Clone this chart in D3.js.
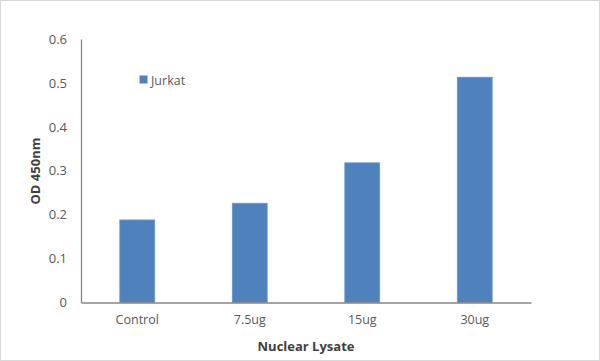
<!DOCTYPE html>
<html><head><meta charset="utf-8">
<script src="https://cdn.jsdelivr.net/npm/d3@7"></script>
<style>body{margin:0;background:#fff}svg{display:block}</style>
</head><body>
<script>
const categories = ["Control", "7.5ug", "15ug", "30ug"];
const jurkat = [0.188, 0.226, 0.318, 0.513];
const yTicks = [0, 0.1, 0.2, 0.3, 0.4, 0.5, 0.6];
const seriesName = "Jurkat";

const W = 600, H = 361;
const svg = d3.select("body").append("svg").attr("width", W).attr("height", H);
svg.append("rect").attr("x", 0.5).attr("y", 0.5).attr("width", W - 1).attr("height", H - 1)
  .attr("fill", "#fff").attr("stroke", "#d9d9d9");

const pLeft = 81, pRight = 531, pTop = 39, pBottom = 302.5;
const x = d3.scaleBand().domain(categories).range([pLeft, pRight]).paddingInner(0.69).paddingOuter(0.345);
const y = d3.scaleLinear().domain([0, 0.6]).range([pBottom, pTop]);
const font = "'Open Sans', 'Liberation Sans', sans-serif";

svg.selectAll("rect.bar").data(jurkat).join("rect").attr("class", "bar")
  .attr("x", (d, i) => x(categories[i])).attr("width", x.bandwidth())
  .attr("y", d => y(d)).attr("height", d => y(0) - y(d))
  .attr("fill", "#4f81bd").attr("stroke", "#6b96cc").attr("stroke-width", 0.8);

const yAxis = svg.append("g").attr("transform", `translate(${pLeft},0)`)
  .call(d3.axisLeft(y).tickValues(yTicks).tickSize(0).tickPadding(14).tickFormat(d => d === 0 ? "0" : d3.format(".1f")(d)));
yAxis.select(".domain").attr("stroke", "#868686").attr("stroke-width", 1.3);
yAxis.selectAll("text").attr("font-family", font).attr("font-size", 13).attr("fill", "#595959");

const xAxis = svg.append("g").attr("transform", `translate(0,${pBottom})`)
  .call(d3.axisBottom(x).tickSize(0).tickPadding(13));
xAxis.select(".domain").attr("stroke", "#868686").attr("stroke-width", 1.3);
xAxis.selectAll("text").attr("font-family", font).attr("font-size", 12.5).attr("fill", "#595959");

svg.append("text").attr("transform", "translate(40,171) rotate(-90)").attr("text-anchor", "middle")
  .attr("font-family", font).attr("font-weight", "bold").attr("font-size", 13).attr("fill", "#404040")
  .text("OD 450nm");
svg.append("text").attr("x", 306).attr("y", 351).attr("text-anchor", "middle")
  .attr("font-family", font).attr("font-weight", "bold").attr("font-size", 13).attr("fill", "#404040")
  .text("Nuclear Lysate");

const lg = svg.append("g");
lg.append("rect").attr("x", 139.5).attr("y", 75.5).attr("width", 8).attr("height", 8).attr("fill", "#4f81bd");
lg.append("text").attr("x", 151).attr("y", 84.5).attr("font-family", font).attr("font-size", 12.5)
  .attr("fill", "#595959").text(seriesName);
</script>
</body></html>
